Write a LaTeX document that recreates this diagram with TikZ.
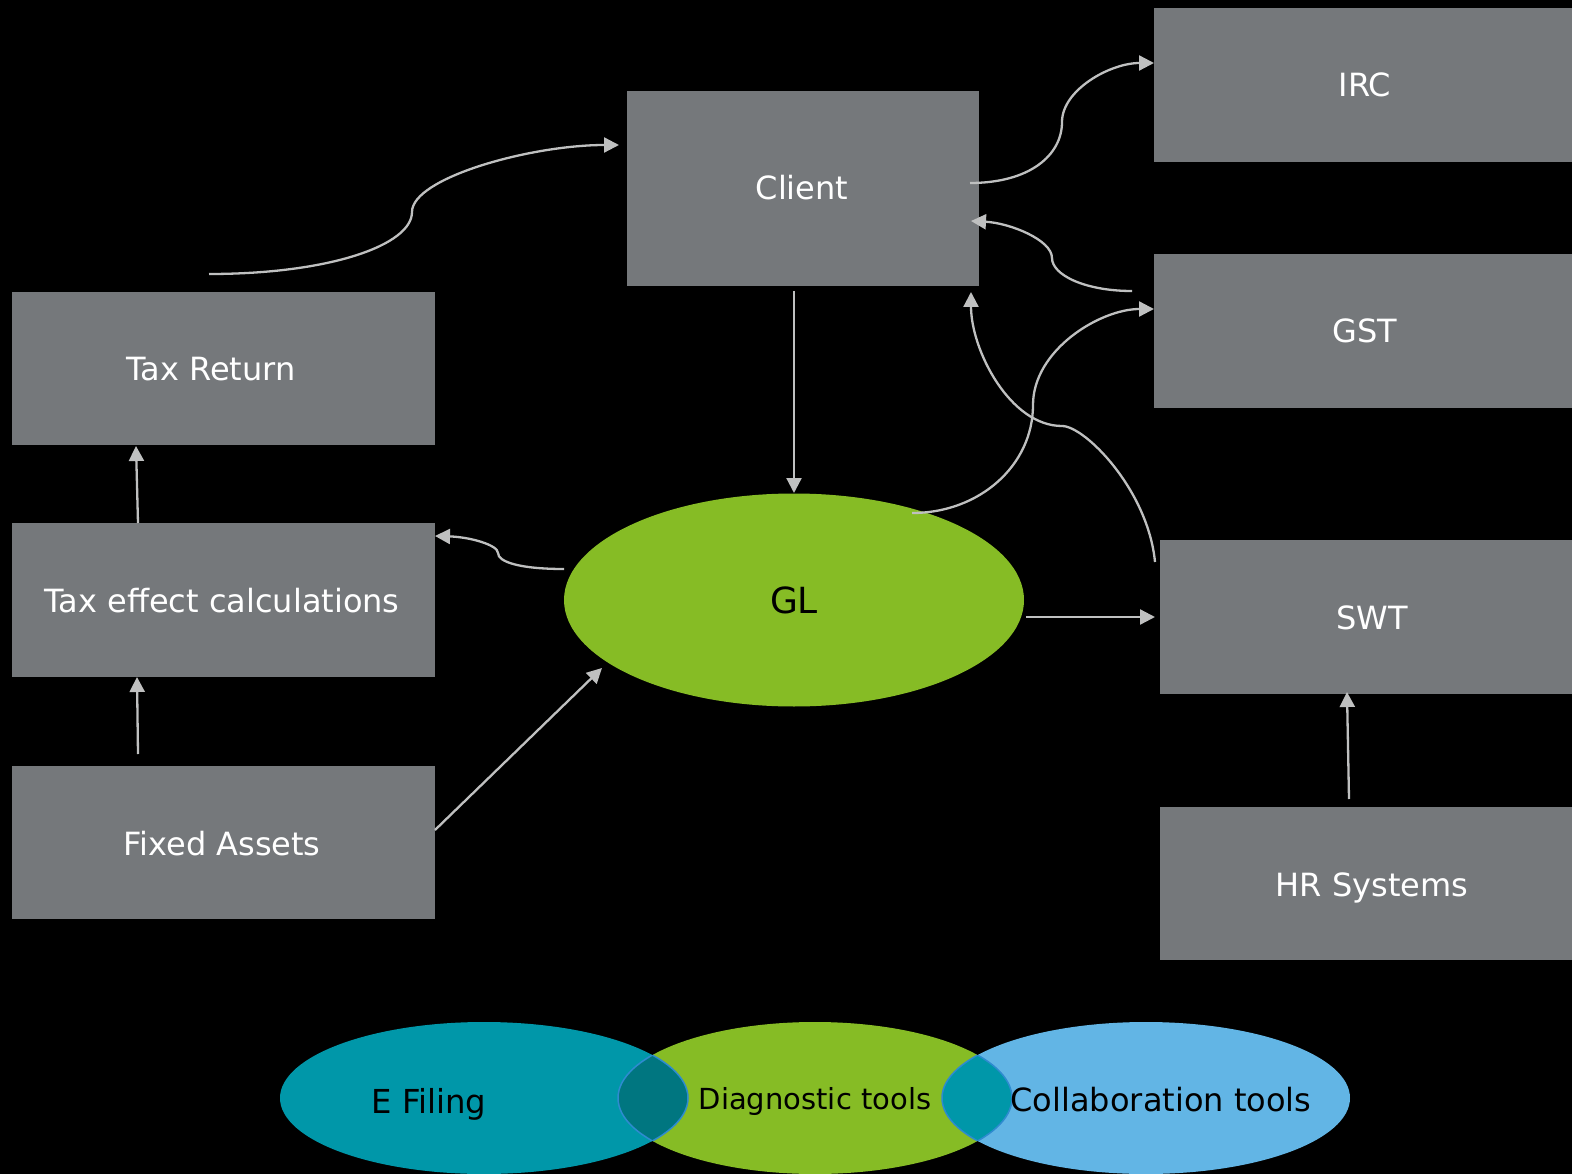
\documentclass[tikz,border=0pt]{standalone}
\usepackage{fontspec}
\setmainfont{DejaVu Sans}
\usetikzlibrary{arrows.meta,shapes.geometric}
\definecolor{boxgray}{HTML}{75787B}
\definecolor{glgreen}{HTML}{86BC25}
\definecolor{tealc}{HTML}{0097A9}
\definecolor{darkteal}{HTML}{007680}
\definecolor{lightblue}{HTML}{62B5E5}
\definecolor{arrowgray}{HTML}{BFC0C0}
\definecolor{lensline}{HTML}{2E8BD0}
\begin{document}
\begin{tikzpicture}[x=1pt,y=-1pt,
  box/.style={fill=boxgray, draw=none, inner sep=0pt, rectangle},
  boxtext/.style={text=white, inner sep=0pt, anchor=base, font=\fontsize{32}{38}\selectfont},
  conn/.style={draw=arrowgray, line width=2.3pt, -{Triangle[length=15pt,width=15pt]}},
  venntext/.style={text=black, inner sep=0pt, anchor=base, font=\fontsize{32}{38}\selectfont}]
\useasboundingbox (0,0) rectangle (1572,1174);
\fill[black] (0,0) rectangle (1572,1174);

% boxes
\node[box, minimum width=352pt, minimum height=195pt] (client) at (803,188.5) {};
\node[box, minimum width=418pt, minimum height=154pt] (irc) at (1363,85) {};
\node[box, minimum width=418pt, minimum height=154pt] (gst) at (1363,331) {};
\node[box, minimum width=412pt, minimum height=154pt] (swt) at (1366,617) {};
\node[box, minimum width=412pt, minimum height=153pt] (hr) at (1366,883.5) {};
\node[box, minimum width=423pt, minimum height=153pt] (taxret) at (223.5,368.5) {};
\node[box, minimum width=423pt, minimum height=154pt] (taxeff) at (223.5,600) {};
\node[box, minimum width=423pt, minimum height=153pt] (fixed) at (223.5,842.5) {};
\node[ellipse, fill=glgreen, draw=none, inner sep=0pt, minimum width=460pt, minimum height=213pt] (gl) at (794,600) {};
\node[text=black, inner sep=0pt, anchor=base, font=\fontsize{36}{42}\selectfont] (glT) at (794,613) {GL};

% box texts
\node[boxtext] (clientT) at (802,200) {Client};
\node[boxtext] (ircT) at (1365,97) {IRC};
\node[boxtext] (gstT) at (1365,342) {GST};
\node[boxtext] (swtT) at (1372,629) {SWT};
\node[boxtext] (hrT) at (1372,896) {HR Systems};
\node[boxtext] (taxretT) at (211,381) {Tax Return};
\node[boxtext] (taxeffT) at (222,612) {Tax effect calculations};
\node[boxtext] (fixedT) at (222,855) {Fixed Assets};

% connector ends
\coordinate (a1) at (209,274);   \coordinate (a2) at (619,145);
\coordinate (b1) at (970,183);   \coordinate (b2) at (1154,63);
\coordinate (c1) at (1132,291);  \coordinate (c2) at (971,221);
\coordinate (d1) at (794,291);   \coordinate (d2) at (794,493);
\coordinate (e1) at (912,513);   \coordinate (e2) at (1154,309);
\coordinate (f1) at (1155,562);  \coordinate (f2) at (971,292);
\coordinate (g1) at (564,569);   \coordinate (g2) at (435,536);
\coordinate (h1) at (1026,617);  \coordinate (h2) at (1155,617);
\coordinate (i1) at (435,830);   \coordinate (i2) at (602,668);
\coordinate (j1) at (138,523);   \coordinate (j2) at (136,446);
\coordinate (k1) at (138,754);   \coordinate (k2) at (137,677);
\coordinate (l1) at (1349,799);  \coordinate (l2) at (1347,692);

% connectors
\draw[conn] (a1) .. controls (330,274) and (412,245) .. (412,212)
                 .. controls (412,178) and (530,145) .. (a2);
\draw[conn] (b1) .. controls (1030,183) and (1062,155) .. (1062,122)
                 .. controls (1062,90) and (1110,63) .. (b2);
\draw[conn] (c1) .. controls (1085,291) and (1052,275) .. (1052,258)
                 .. controls (1052,240) and (1010,223) .. (c2);
\draw[conn] (d1) -- (d2);
\draw[conn] (e1) .. controls (980,513) and (1033,465) .. (1033,405)
                 .. controls (1033,350) and (1100,309) .. (e2);
\draw[conn] (f1) .. controls (1148,490) and (1085,426) .. (1062,426)
                 .. controls (1010,426) and (971,350) .. (f2);
\draw[conn] (g1) .. controls (520,569) and (498,562) .. (498,553)
                 .. controls (498,545) and (470,537) .. (g2);
\draw[conn] (h1) -- (h2);
\draw[conn] (i1) -- (i2);
\draw[conn] (j1) -- (j2);
\draw[conn] (k1) -- (k2);
\draw[conn] (l1) -- (l2);

% bottom venn
\def\Eell{(484,1098) ellipse [x radius=204pt, y radius=76pt]}
\def\Dell{(815,1098) ellipse [x radius=197pt, y radius=76pt]}
\def\Cell{(1146,1098) ellipse [x radius=204pt, y radius=76pt]}
\fill[tealc] \Eell;
\fill[glgreen] \Dell;
\fill[lightblue] \Cell;
\begin{scope}\clip \Eell; \fill[darkteal] \Dell; \end{scope}
\begin{scope}\clip \Dell; \fill[tealc] \Cell; \end{scope}
\begin{scope}\clip \Eell; \draw[lensline, line width=1.5pt] \Dell; \end{scope}
\begin{scope}\clip \Dell; \draw[lensline, line width=1.5pt] \Eell; \end{scope}
\begin{scope}\clip \Dell; \draw[lensline, line width=1.5pt] \Cell; \end{scope}
\begin{scope}\clip \Cell; \draw[lensline, line width=1.5pt] \Dell; \end{scope}
\node[venntext, font=\fontsize{33}{40}\selectfont] (efile) at (429,1113) {\scalebox{0.98}[1]{E Filing}};
\node[venntext, font=\fontsize{29}{35}\selectfont] (diag) at (815,1109) {Diagnostic tools};
\node[venntext] (collab) at (1161,1111) {Collaboration tools};
\end{tikzpicture}
\end{document}
